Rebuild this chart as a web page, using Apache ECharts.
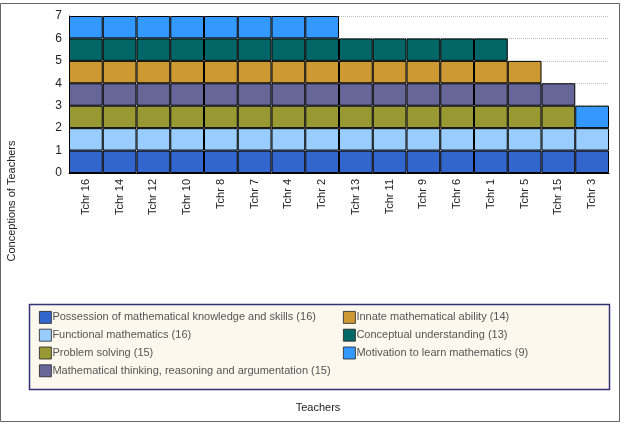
<!DOCTYPE html>
<html>
<head>
<meta charset="utf-8">
<script src="https://cdn.jsdelivr.net/npm/echarts@6/dist/echarts.min.js"></script>
<style>
  html, body { margin: 0; padding: 0; background: #fff; }
  #main { width: 625px; height: 424px; }
</style>
</head>
<body>
<div id="main"></div>
<script>
// teachers, in the order shown on the x axis
var teachers = ['Tchr 16', 'Tchr 14', 'Tchr 12', 'Tchr 10', 'Tchr 8', 'Tchr 7', 'Tchr 4', 'Tchr 2',
                'Tchr 13', 'Tchr 11', 'Tchr 9', 'Tchr 6', 'Tchr 1', 'Tchr 5', 'Tchr 15', 'Tchr 3'];

// one entry per teacher: 1 = conception held, '-' = not held
var possession   = [1,1,1,1,1,1,1,1, 1,1,1,1,1, 1,1,1];
var functional   = [1,1,1,1,1,1,1,1, 1,1,1,1,1, 1,1,1];
var problemSolv  = [1,1,1,1,1,1,1,1, 1,1,1,1,1, 1,1,'-'];
var thinking     = [1,1,1,1,1,1,1,1, 1,1,1,1,1, 1,1,'-'];
var innate       = [1,1,1,1,1,1,1,1, 1,1,1,1,1, 1,'-','-'];
var conceptual   = [1,1,1,1,1,1,1,1, 1,1,1,1,1, '-','-','-'];
var motivation   = [1,1,1,1,1,1,1,1, '-','-','-','-','-', '-','-',1];

var seriesNames = [
    'Possession of mathematical knowledge and skills (16)',
    'Functional mathematics (16)',
    'Problem solving (15)',
    'Mathematical thinking, reasoning and argumentation (15)',
    'Innate mathematical ability (14)',
    'Conceptual understanding (13)',
    'Motivation to learn mathematics (9)'
];
var seriesData = [possession, functional, problemSolv, thinking, innate, conceptual, motivation];
var colors = ['#3366cc', '#99ccff', '#999933', '#666699', '#cc9933', '#006666', '#3399ff'];

var myChart = echarts.init(document.getElementById('main'));

var series = seriesNames.map(function (name, i) {
    return {
        name: name,
        type: 'bar',
        stack: 'total',
        barCategoryGap: 0,
        itemStyle: { color: colors[i], borderColor: '#000', borderWidth: 1 },
        data: seriesData[i]
    };
});

var legendText = { fontFamily: 'Liberation Sans', fontSize: 11, color: '#555', padding: [0, 0, 0, -4] };

var option = {
    animation: false,
    textStyle: { fontFamily: 'Liberation Sans' },
    grid: { left: 69, right: 16, top: 16, bottom: 251, containLabel: false },
    xAxis: {
        type: 'category',
        data: teachers,
        axisLine: { lineStyle: { color: '#000', width: 1 } },
        axisTick: { show: false },
        axisLabel: { rotate: 90, fontSize: 11, color: '#222', margin: 6 }
    },
    yAxis: {
        type: 'value',
        min: 0,
        max: 7,
        interval: 1,
        axisLine: { show: true, lineStyle: { color: '#000' } },
        axisTick: { show: false },
        axisLabel: { fontSize: 12, color: '#222', margin: 7 },
        splitLine: { lineStyle: { color: '#bbb', type: 'dotted' } }
    },
    legend: [
        {
            data: seriesNames.slice(0, 4),
            orient: 'vertical',
            left: 34, top: 306,
            itemWidth: 12, itemHeight: 12, itemGap: 5,
            icon: 'rect',
            itemStyle: { borderColor: '#222', borderWidth: 0.8 },
            textStyle: legendText,
            selectedMode: false
        },
        {
            data: seriesNames.slice(4),
            orient: 'vertical',
            left: 338, top: 306,
            itemWidth: 12, itemHeight: 12, itemGap: 5,
            icon: 'rect',
            itemStyle: { borderColor: '#222', borderWidth: 0.8 },
            textStyle: legendText,
            selectedMode: false
        }
    ],
    graphic: [
        {
            type: 'rect', z: -10,
            shape: { x: 0.5, y: 3.5, width: 619, height: 418 },
            style: { fill: 'none', stroke: '#666', lineWidth: 1 }
        },
        {
            type: 'rect', z: -5,
            shape: { x: 29.5, y: 304.5, width: 580, height: 85 },
            style: { fill: '#fdf8ee', stroke: '#333377', lineWidth: 1.5 }
        },
        {
            type: 'text',
            x: 12, y: 201, rotation: Math.PI / 2,
            style: { text: 'Conceptions of Teachers', fontSize: 11, fill: '#222',
                     fontFamily: 'Liberation Sans', align: 'center', verticalAlign: 'middle' }
        },
        {
            type: 'text',
            x: 318, y: 408,
            style: { text: 'Teachers', fontSize: 11, fill: '#222',
                     fontFamily: 'Liberation Sans', align: 'center', verticalAlign: 'middle' }
        }
    ],
    series: series
};

myChart.setOption(option, true);
</script>
</body>
</html>
